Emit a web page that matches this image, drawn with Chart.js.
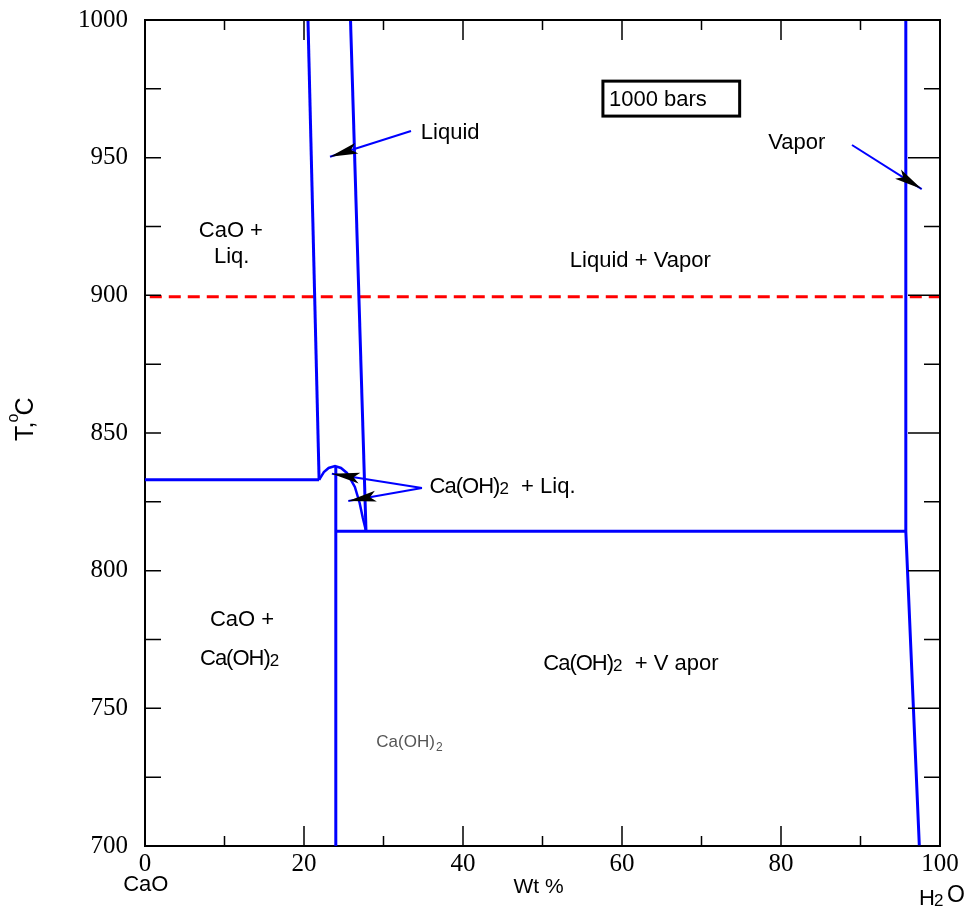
<!DOCTYPE html>
<html lang="en">
<head>
<meta charset="UTF-8">
<title>CaO - H2O phase diagram at 1000 bars</title>
<script src="https://cdn.jsdelivr.net/npm/chart.js"></script>
<style>
  body { margin: 0; background: #fff; }
  #wrap { width: 968px; height: 910px; }
</style>
</head>
<body>
<div id="wrap"><canvas id="phaseChart" width="968" height="910"></canvas></div>
<script>
// Boundaries as [wt % H2O, T °C]
const caoLiquidus   = [[20.5, 1000], [21.9, 833]];
const liquidLimit   = [[25.85, 1000], [27.8, 814.3]];
const eutecticLine  = [[0, 833], [21.9, 833]];
const hydroxideMelt = [[21.9, 833], [22.5, 835.8], [23.1, 837.3], [23.9, 838], [24.65, 837.3],
                       [25.4, 835.5], [26.4, 830.4], [27.0, 824.6], [27.4, 819.1], [27.8, 814.4]];
const hydroxideLine = [[24, 838], [24, 700]];
const vaporFloor    = [[24, 814.3], [95.7, 814.3]];
const vaporLimit    = [[95.7, 1000], [95.7, 814.3], [97.4, 700]];
const isotherm900   = [[0.6, 899.5], [100.6, 899.5]];

// leader lines: first point at the label, last point is the arrow tip
const liquidLeader = [[33.46, 959.7], [23.27, 950.35]];
const vaporLeader  = [[88.93, 954.6], [97.7, 938.6]];
const meltLeaderA  = [[34.84, 830.0], [23.5, 835.2]];
const meltLeaderB  = [[34.84, 830.0], [25.57, 825.3]];

const SANS = "'Liberation Sans', Arial, sans-serif";
const SERIF = "'Liberation Serif', 'Times New Roman', serif";
const BLUE = '#0000ff';

// field labels: [parts, x, y, align]; parts are [text, small?, tight?]
const fieldLabels = [
  [[['CaO +']], 10.8, 924.1, 'center'],
  [[['Liq.']], 10.9, 914.6, 'center'],
  [[['Liquid']], 34.7, 959.7, 'left'],
  [[['Vapor']], 78.4, 956.1, 'left'],
  [[['Liquid + Vapor']], 62.3, 913.2, 'center'],
  [[['Ca(OH)', false, true], ['2', true], ['  + Liq.']], 35.8, 831.1, 'left'],
  [[['CaO +']], 12.2, 782.8, 'center'],
  [[['Ca(OH)', false, true], ['2', true]], 11.9, 768.5, 'center'],
  [[['Ca(OH)', false, true], ['2', true], ['  + V apor']], 50.1, 766.8, 'left']
];

function pts(arr) { return arr.map(p => ({ x: p[0], y: p[1] })); }

function boundary(arr, extra) {
  return Object.assign({
    data: pts(arr), borderColor: BLUE, borderWidth: 3, pointRadius: 0,
    fill: false, tension: 0
  }, extra || {});
}

function leader(arr) {
  return boundary(arr, { borderWidth: 2, arrow: true });
}

function drawParts(ctx, parts, x, y, align, size) {
  const small = Math.round(size * 0.78);
  const setFont = p => {
    ctx.font = (p[1] ? small : size) + 'px ' + SANS;
    ctx.letterSpacing = p[2] ? '-1px' : '0px';
  };
  let total = 0;
  parts.forEach(p => { setFont(p); total += ctx.measureText(p[0]).width; });
  let cx = align === 'center' ? x - total / 2 : x;
  ctx.textAlign = 'left';
  ctx.textBaseline = 'alphabetic';
  parts.forEach(p => {
    setFont(p);
    ctx.fillText(p[0], cx, y + size * 0.36 + (p[1] ? 1 : 0));
    cx += ctx.measureText(p[0]).width;
  });
  ctx.letterSpacing = '0px';
}

const decor = {
  id: 'decor',
  afterDatasetsDraw(chart) {
    const ctx = chart.ctx;
    const xs = chart.scales.x, ys = chart.scales.y;
    const a = chart.chartArea;
    ctx.save();

    // arrowheads on leader lines
    chart.data.datasets.forEach(ds => {
      if (!ds.arrow) return;
      const n = ds.data.length;
      const tx = xs.getPixelForValue(ds.data[n - 1].x), ty = ys.getPixelForValue(ds.data[n - 1].y);
      const fx = xs.getPixelForValue(ds.data[n - 2].x), fy = ys.getPixelForValue(ds.data[n - 2].y);
      const len = Math.hypot(tx - fx, ty - fy);
      const dx = (tx - fx) / len, dy = (ty - fy) / len;
      const nx = -dy, ny = dx;
      const bx = tx - dx * 28, by = ty - dy * 28;
      ctx.fillStyle = '#000';
      ctx.beginPath();
      ctx.moveTo(tx, ty);
      ctx.lineTo(bx + nx * 5.5, by + ny * 5.5);
      ctx.lineTo(tx - dx * 22, ty - dy * 22);
      ctx.lineTo(bx - nx * 5.5, by - ny * 5.5);
      ctx.closePath();
      ctx.fill();
    });

    // frame top and right
    ctx.strokeStyle = '#000';
    ctx.lineWidth = 2;
    ctx.beginPath();
    ctx.moveTo(a.left, a.top); ctx.lineTo(a.right, a.top); ctx.lineTo(a.right, a.bottom);
    ctx.stroke();

    // inward tick marks
    ctx.lineWidth = 1.5;
    ctx.beginPath();
    for (let v = 0; v <= 100; v += 10) {
      const px = xs.getPixelForValue(v);
      const l = v % 20 === 0 ? 20 : 10;
      ctx.moveTo(px, a.bottom); ctx.lineTo(px, a.bottom - l);
      ctx.moveTo(px, a.top); ctx.lineTo(px, a.top + l);
    }
    for (let t = 700; t <= 1000; t += 25) {
      const py = ys.getPixelForValue(t);
      ctx.moveTo(a.left, py); ctx.lineTo(a.left + 16, py);
      ctx.moveTo(a.right, py); ctx.lineTo(a.right - (t % 50 === 0 ? 32 : 16), py);
    }
    ctx.stroke();

    // field labels
    ctx.fillStyle = '#000';
    fieldLabels.forEach(l => {
      drawParts(ctx, l[0], xs.getPixelForValue(l[1]), ys.getPixelForValue(l[2]), l[3], 22);
    });

    // single-phase hydroxide, lighter and smaller
    ctx.fillStyle = '#555';
    const hx = xs.getPixelForValue(29.1), hy = ys.getPixelForValue(737.8);
    ctx.font = '17px ' + SANS;
    ctx.textAlign = 'left';
    ctx.textBaseline = 'middle';
    ctx.fillText('Ca(OH)', hx, hy);
    const hw = ctx.measureText('Ca(OH)').width;
    ctx.font = '12px ' + SANS;
    ctx.fillText('2', hx + hw + 1, hy + 6);

    // pressure box
    const bx0 = xs.getPixelForValue(57.6), bx1 = xs.getPixelForValue(74.8);
    const by0 = ys.getPixelForValue(977.8), by1 = ys.getPixelForValue(965.1);
    ctx.strokeStyle = '#000';
    ctx.lineWidth = 3;
    ctx.strokeRect(bx0, by0, bx1 - bx0, by1 - by0);
    ctx.fillStyle = '#000';
    ctx.font = '22px ' + SANS;
    ctx.textBaseline = 'middle';
    ctx.fillText('1000 bars', bx0 + 6, (by0 + by1) / 2 + 1);

    // axis captions
    ctx.textAlign = 'center';
    ctx.font = '21px ' + SANS;
    ctx.fillText('Wt %', xs.getPixelForValue(49.5), 887);
    ctx.font = '22px ' + SANS;
    ctx.fillText('CaO', xs.getPixelForValue(0.1), 885);
    ctx.textAlign = 'left';
    ctx.fillText('H', 919, 899);
    ctx.font = '17px ' + SANS;
    ctx.fillText('2', 934, 901);
    ctx.font = '23px ' + SANS;
    ctx.fillText('O', 947, 896);

    // rotated temperature title
    ctx.translate(33, 441);
    ctx.rotate(-Math.PI / 2);
    ctx.textBaseline = 'alphabetic';
    ctx.font = '25px ' + SANS;
    ctx.fillText('T,', 0, 0);
    const tw = ctx.measureText('T,').width;
    ctx.font = '16px ' + SANS;
    ctx.fillText('o', tw - 1, -15);
    ctx.font = '25px ' + SANS;
    ctx.fillText('C', tw + 6, 0);

    ctx.restore();
  }
};

new Chart(document.getElementById('phaseChart'), {
  type: 'line',
  data: {
    datasets: [
      boundary(caoLiquidus),
      boundary(liquidLimit),
      boundary(eutecticLine),
      boundary(hydroxideMelt, { borderWidth: 2.5 }),
      boundary(hydroxideLine),
      boundary(vaporFloor),
      boundary(vaporLimit),
      boundary(isotherm900, { borderColor: '#ff0000', borderDash: [12, 7], clip: false }),
      leader(liquidLeader),
      leader(vaporLeader),
      leader(meltLeaderA),
      leader(meltLeaderB)
    ]
  },
  options: {
    responsive: false,
    animation: false,
    layout: { padding: { left: 0, top: 20, right: 28, bottom: 0 } },
    plugins: { legend: { display: false }, tooltip: { enabled: false } },
    scales: {
      x: {
        type: 'linear', min: 0, max: 100,
        ticks: { stepSize: 20, color: '#000', font: { family: SERIF, size: 25 }, padding: 3, maxRotation: 0,
                 callback: v => String(v) },
        grid: { display: false, drawTicks: false },
        border: { color: '#000', width: 2 },
        afterFit: s => { s.height = 64; s.paddingLeft = 0; s.paddingRight = 0; }
      },
      y: {
        type: 'linear', min: 700, max: 1000,
        ticks: { stepSize: 50, color: '#000', font: { family: SERIF, size: 25 }, padding: 17,
                 callback: v => String(v) },
        grid: { display: false, drawTicks: false },
        border: { color: '#000', width: 2 },
        afterFit: s => { s.width = 145; s.paddingTop = 0; s.paddingBottom = 0; }
      }
    }
  },
  plugins: [decor]
});
</script>
</body>
</html>
